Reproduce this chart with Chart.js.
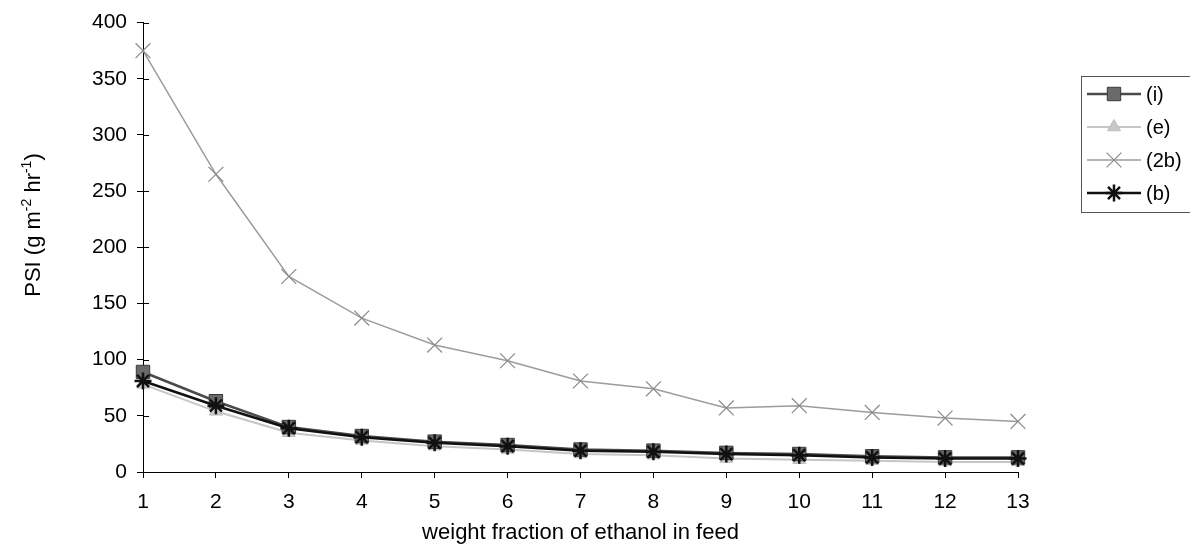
<!DOCTYPE html>
<html>
<head>
    <title>PSI vs weight fraction of ethanol</title>
    <script src="https://cdn.jsdelivr.net/npm/chart.js"></script>
    <style>
        body {
            margin: 0;
            background-color: #fff;
        }
        #psiChart {
            display: block;
        }
    </style>
</head>
<body>
    <canvas id="psiChart" width="1190" height="554"></canvas>

    <script>
        // data
        var xValues = [1, 2, 3, 4, 5, 6, 7, 8, 9, 10, 11, 12, 13];
        var seriesI = [89, 63, 40, 32, 27, 24, 20, 19, 17, 16, 14, 13, 13];
        var seriesE = [78, 54, 35, 28, 23, 20, 16, 15, 12, 11, 10, 9, 9];
        var series2b = [375, 265, 174, 137, 113, 99, 81, 74, 57, 59, 53, 48, 45];
        var seriesB = [81, 59, 39, 31, 26, 23, 19, 18, 16, 15, 13, 12, 12];
        var seriesNames = ['(i)', '(e)', '(2b)', '(b)'];
        var yTicks = [0, 50, 100, 150, 200, 250, 300, 350, 400];

        var FONT = "'Liberation Sans', Arial, sans-serif";
        Chart.defaults.font.family = FONT;
        Chart.defaults.color = '#000';

        function toPoints(values) {
            return values.map(function(v, i) { return {x: xValues[i], y: v}; });
        }

        // draws the y title (with superscripts), the inner halves of y ticks and the legend box
        var extras = {
            id: 'extras',
            afterDraw: function(chart) {
                var ctx = chart.ctx;
                var area = chart.chartArea;
                var yScale = chart.scales.y;

                ctx.save();
                ctx.strokeStyle = '#000';
                ctx.lineWidth = 1;
                yTicks.forEach(function(t) {
                    var py = Math.round(yScale.getPixelForValue(t)) + 0.5;
                    ctx.beginPath();
                    ctx.moveTo(area.left, py);
                    ctx.lineTo(area.left + 6, py);
                    ctx.stroke();
                });
                ctx.restore();

                // y axis title
                var parts = [
                    {t: 'PSI (g m', sup: false},
                    {t: '-2', sup: true},
                    {t: ' hr', sup: false},
                    {t: '-1', sup: true},
                    {t: ')', sup: false}
                ];
                ctx.save();
                ctx.fillStyle = '#000';
                ctx.textBaseline = 'alphabetic';
                ctx.textAlign = 'left';
                var total = 0;
                parts.forEach(function(p) {
                    ctx.font = (p.sup ? '14px ' : '22px ') + FONT;
                    p.w = ctx.measureText(p.t).width;
                    total += p.w;
                });
                ctx.translate(40, 225);
                ctx.rotate(-Math.PI / 2);
                var cx = -total / 2;
                parts.forEach(function(p) {
                    ctx.font = (p.sup ? '14px ' : '22px ') + FONT;
                    ctx.fillText(p.t, cx, p.sup ? -9 : 0);
                    cx += p.w;
                });
                ctx.restore();

                // legend
                ctx.save();
                ctx.strokeStyle = '#555';
                ctx.lineWidth = 1;
                ctx.strokeRect(1081.5, 76.5, 130, 136);
                var rowY = [94, 127, 160, 193];
                seriesNames.forEach(function(name, k) {
                    var ds = chart.data.datasets.find(function(d) { return d.label === name; });
                    var y = rowY[k];
                    ctx.strokeStyle = ds.borderColor;
                    ctx.lineWidth = ds.borderWidth;
                    ctx.beginPath();
                    ctx.moveTo(1087, y);
                    ctx.lineTo(1141, y);
                    ctx.stroke();
                    ctx.fillStyle = ds.pointBackgroundColor;
                    ctx.strokeStyle = ds.pointBorderColor;
                    ctx.lineWidth = ds.pointBorderWidth;
                    Chart.helpers.drawPoint(ctx, {
                        pointStyle: ds.pointStyle,
                        radius: ds.pointRadius,
                        rotation: 0,
                        borderWidth: ds.pointBorderWidth
                    }, 1114, y);
                    ctx.fillStyle = '#000';
                    ctx.font = '20px ' + FONT;
                    ctx.textBaseline = 'middle';
                    ctx.fillText(name, 1146, y + 1);
                });
                ctx.restore();
            }
        };

        var ctx = document.getElementById('psiChart').getContext('2d');
        var psiChart = new Chart(ctx, {
            type: 'line',
            data: {
                datasets: [{
                    label: '(b)',
                    data: toPoints(seriesB),
                    order: 0,
                    clip: false,
                    borderColor: '#111',
                    borderWidth: 2.5,
                    pointStyle: 'star',
                    pointRadius: 8.5,
                    pointBackgroundColor: '#111',
                    pointBorderColor: '#111',
                    pointBorderWidth: 2.5
                }, {
                    label: '(i)',
                    data: toPoints(seriesI),
                    order: 1,
                    clip: false,
                    borderColor: '#4a4a4a',
                    borderWidth: 2.5,
                    pointStyle: 'rect',
                    pointRadius: 9.5,
                    pointBackgroundColor: '#6a6a6a',
                    pointBorderColor: '#3a3a3a',
                    pointBorderWidth: 1
                }, {
                    label: '(2b)',
                    data: toPoints(series2b),
                    order: 2,
                    clip: false,
                    borderColor: '#9c9c9c',
                    borderWidth: 1.5,
                    pointStyle: 'crossRot',
                    pointRadius: 10.5,
                    pointBackgroundColor: '#8a8a8a',
                    pointBorderColor: '#8a8a8a',
                    pointBorderWidth: 1.2
                }, {
                    label: '(e)',
                    data: toPoints(seriesE),
                    order: 3,
                    clip: false,
                    borderColor: '#c6c6c6',
                    borderWidth: 2,
                    pointStyle: 'triangle',
                    pointRadius: 7.5,
                    pointBackgroundColor: '#c8c8c8',
                    pointBorderColor: '#bdbdbd',
                    pointBorderWidth: 1
                }]
            },
            options: {
                responsive: false,
                animation: false,
                layout: {
                    padding: {top: 22, right: 172, left: 0, bottom: 0}
                },
                elements: {
                    line: {tension: 0, fill: false}
                },
                plugins: {
                    legend: {display: false},
                    tooltip: {enabled: false}
                },
                scales: {
                    x: {
                        type: 'linear',
                        min: 1,
                        max: 13,
                        afterFit: function(s) { s.height = 82; },
                        ticks: {
                            stepSize: 1,
                            padding: 12,
                            font: {size: 21}
                        },
                        grid: {
                            drawOnChartArea: false,
                            tickLength: 6,
                            color: '#000'
                        },
                        border: {color: '#000', width: 1},
                        title: {
                            display: true,
                            text: 'weight fraction of ethanol in feed',
                            font: {size: 22},
                            padding: {top: 0, bottom: 8}
                        }
                    },
                    y: {
                        min: 0,
                        max: 400,
                        afterFit: function(s) { s.width = 143; },
                        afterBuildTicks: function(s) {
                            s.ticks = yTicks.map(function(v) { return {value: v}; });
                        },
                        ticks: {
                            padding: 10,
                            font: {size: 21}
                        },
                        grid: {
                            drawOnChartArea: false,
                            tickLength: 6,
                            color: '#000'
                        },
                        border: {color: '#000', width: 1}
                    }
                }
            },
            plugins: [extras]
        });
    </script>
</body>
</html>
